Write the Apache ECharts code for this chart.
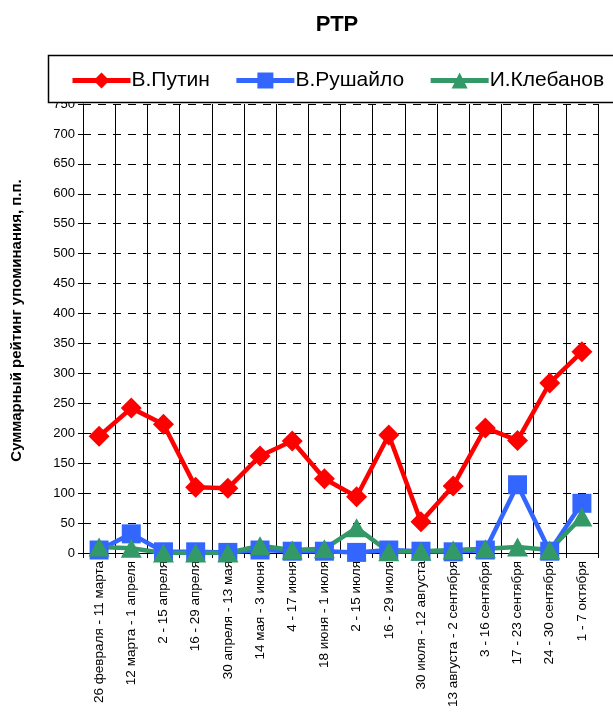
<!DOCTYPE html>
<html><head><meta charset="utf-8">
<script src="https://cdn.jsdelivr.net/npm/echarts@6/dist/echarts.min.js"></script>
<style>html,body{margin:0;padding:0;background:#fff}#c{width:613px;height:713px}</style>
</head><body><div id="c"></div>
<script>
const categories = ["26 февраля - 11 марта","12 марта - 1 апреля","2 - 15 апреля","16 - 29 апреля","30 апреля - 13 мая","14 мая - 3 июня","4 - 17 июня","18 июня - 1 июля","2 - 15 июля","16 - 29 июля","30 июля - 12 августа","13 августа - 2 сентября","3 - 16 сентября","17 - 23 сентября","24 - 30 сентября","1 - 7 октября"];
const putin = [195, 242, 215, 110, 108, 162, 187, 124, 94, 197, 52, 112, 209, 188, 284, 336];
const rushailo = [5, 32, 2, 2, 1, 5, 3, 3, 1, 5, 3, 2, 5, 114, 3, 83];
const klebanov = [10, 8, 0, 0, 0, 12, 5, 7, 42, 2, 3, 5, 7, 10, 5, 60];
const seriesNames = ["В.Путин", "В.Рушайло", "И.Клебанов"];
const yTicks = {min: 0, max: 750, interval: 50};

const chart = echarts.init(document.getElementById('c'));
const FONT = 'Liberation Sans, Arial, sans-serif';
chart.setOption({
  animation: false,
  textStyle: {fontFamily: FONT},
  title: {text: 'РТР', left: 332, textAlign: 'center', top: 9,
    textStyle: {fontSize: 22, fontWeight: 'bold', color: '#000', fontFamily: FONT}},
  legend: {
    left: 65, top: 65, itemGap: 24, itemWidth: 58, itemHeight: 20, z: 20,
    lineStyle: {width: 5},
    textStyle: {fontSize: 21, color: '#000', fontFamily: FONT, padding: [0,0,0,-4]},
    data: seriesNames
  },
  graphic: [{type: 'rect', shape: {x: 48.5, y: 55.5, width: 580, height: 47}, z: 10,
    style: {fill: '#fff', stroke: '#000', lineWidth: 1.5}}],
  grid: {left: 83, right: 15, top: 104, bottom: 160, containLabel: false},
  xAxis: {
    type: 'category', data: categories, boundaryGap: true,
    axisLine: {lineStyle: {color: '#000', width: 1}},
    axisTick: {show: true, length: 5, lineStyle: {color: '#000'}},
    splitLine: {show: true, lineStyle: {color: '#000', width: 1, type: 'solid'}},
    axisLabel: {rotate: 90, fontSize: 13.5, color: '#000', margin: 8, interval: 0, fontFamily: FONT}
  },
  yAxis: {
    type: 'value', min: yTicks.min, max: yTicks.max, interval: yTicks.interval,
    name: 'Суммарный рейтинг упоминания, п.п.', nameLocation: 'middle', nameGap: 59,
    nameTextStyle: {fontSize: 15, fontWeight: 'bold', color: '#000', fontFamily: FONT, padding: [0, 0, 0, 16]},
    axisLine: {show: true, lineStyle: {color: '#000', width: 1}},
    axisTick: {show: true, length: 5, lineStyle: {color: '#000'}},
    splitLine: {show: true, lineStyle: {color: '#000', width: 1, type: [8, 7]}},
    axisLabel: {fontSize: 13, color: '#000', margin: 8, fontFamily: FONT}
  },
  series: [
    {name: seriesNames[0], type: 'line', data: putin, symbol: 'diamond', symbolSize: 21,
      lineStyle: {color: '#ff0000', width: 4.5}, itemStyle: {color: '#ff0000'}},
    {name: seriesNames[1], type: 'line', data: rushailo, symbol: 'rect', symbolSize: 19,
      lineStyle: {color: '#3366ff', width: 4.5}, itemStyle: {color: '#3366ff'}},
    {name: seriesNames[2], type: 'line', data: klebanov, symbol: 'triangle', symbolSize: [21, 19],
      lineStyle: {color: '#339966', width: 4.5}, itemStyle: {color: '#339966'}}
  ]
});
</script></body></html>
